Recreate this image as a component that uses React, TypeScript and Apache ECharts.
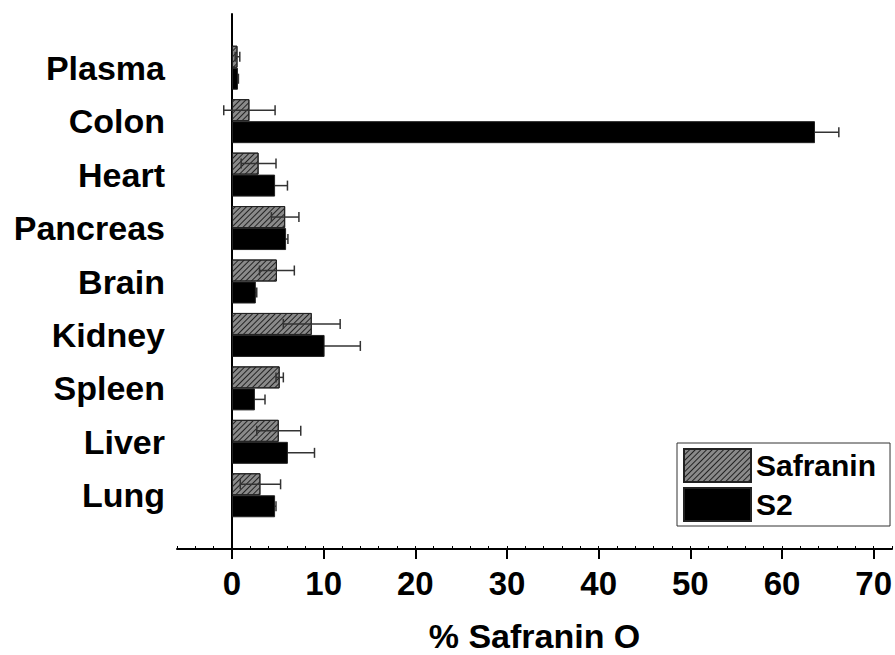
import React, { useEffect, useRef } from 'react';
import * as echarts from 'echarts';

const categories = ['Lung', 'Liver', 'Spleen', 'Kidney', 'Brain', 'Pancreas', 'Heart', 'Colon', 'Plasma'];
const safranin = [3.1, 5.1, 5.2, 8.7, 4.9, 5.8, 2.9, 1.9, 0.6];
const safraninErr = [2.2, 2.4, 0.4, 3.1, 1.9, 1.5, 1.9, 2.8, 0.25];
const s2 = [4.7, 6.1, 2.5, 10.1, 2.6, 5.9, 4.7, 63.6, 0.65];
const s2Err = [0.1, 2.9, 1.1, 3.9, 0.1, 0.2, 1.35, 2.6, 0.05];
const xTickLabels = [0, 10, 20, 30, 40, 50, 60, 70];

const FONT = 'Liberation Sans';
const BAR_W = 22;

const safraninErrData = safranin.map((v, i) => [i, v, safraninErr[i], 0]);
const s2ErrData = s2.map((v, i) => [i, v, s2Err[i], 1]);

const renderErr = (params: any, api: any) => {
  const cat = api.value(0);
  const mean = api.value(1);
  const err = api.value(2);
  const side = api.value(3);
  const c = api.coord([mean, cat]);
  const lo = api.coord([mean - err, cat]);
  const hi = api.coord([mean + err, cat]);
  const y = c[1] + (side === 0 ? -1 : 1) * (BAR_W / 2);
  const style = { stroke: '#333', lineWidth: 1.5 };
  return {
    type: 'group',
    children: [
      { type: 'line', shape: { x1: lo[0], y1: y, x2: hi[0], y2: y }, style },
      { type: 'line', shape: { x1: lo[0], y1: y - 5, x2: lo[0], y2: y + 5 }, style },
      { type: 'line', shape: { x1: hi[0], y1: y - 5, x2: hi[0], y2: y + 5 }, style },
    ],
  };
};

export default function App() {
  const ref = useRef<HTMLDivElement>(null);
  useEffect(() => {
    const chart = echarts.init(ref.current!, null, { renderer: 'svg' });
    const textBase = { fontFamily: FONT, fontWeight: 'bold' as const, color: '#000' };
    chart.setOption({
      animation: false,
      grid: [
        { left: 177, right: 3, top: 41, bottom: 133, outerBoundsMode: 'none', containLabel: false },
        { left: 177, right: 3, top: 14, bottom: 106, outerBoundsMode: 'none', containLabel: false },
      ],
      legend: {
        data: ['Safranin', 'S2'],
        orient: 'vertical',
        left: 677,
        top: 443,
        icon: 'rect',
        itemWidth: 67,
        itemHeight: 33,
        itemGap: 4,
        padding: [5, 14, 4, 6],
        borderColor: '#333',
        borderWidth: 1,
        textStyle: { ...textBase, fontSize: 30 },
      },
      xAxis: [
        { gridIndex: 0, type: 'value', min: -6, max: 72, show: false },
        {
          gridIndex: 1,
          type: 'value',
          min: -6,
          max: 72,
          position: 'bottom',
          axisLine: { onZero: false, lineStyle: { color: '#000', width: 2 } },
          axisTick: { customValues: xTickLabels, length: 10, lineStyle: { color: '#000', width: 2 } },
          axisLabel: { customValues: xTickLabels, ...textBase, fontSize: 33, margin: 18 },
          splitLine: { show: false },
          name: '% Safranin O',
          nameLocation: 'middle',
          nameGap: 70,
          nameTextStyle: { ...textBase, fontSize: 34 },
        },
        {
          gridIndex: 1,
          type: 'value',
          min: -6,
          max: 72,
          interval: 2,
          position: 'bottom',
          axisLine: { show: false, onZero: false },
          axisTick: { inside: true, length: 3, lineStyle: { color: '#000', width: 1 } },
          axisLabel: { show: false },
          splitLine: { show: false },
        },
      ],
      yAxis: [
        {
          gridIndex: 0,
          type: 'category',
          data: categories,
          position: 'left',
          axisLine: { onZero: true, lineStyle: { color: '#000', width: 2 } },
          axisTick: { length: 5, lineStyle: { color: '#000', width: 2 } },
          axisLabel: { interval: 0, ...textBase, fontSize: 34, margin: 12 },
          splitLine: { show: false },
        },
        {
          gridIndex: 0,
          type: 'category',
          data: categories,
          position: 'left',
          axisLine: { show: false, onZero: true },
          axisTick: { inside: true, length: 5, lineStyle: { color: '#000', width: 2 } },
          axisLabel: { show: false },
          splitLine: { show: false },
        },
        {
          gridIndex: 1,
          type: 'value',
          min: 0,
          max: 10,
          position: 'left',
          axisLine: { onZero: true, lineStyle: { color: '#000', width: 2 } },
          axisTick: { show: false },
          axisLabel: { show: false },
          splitLine: { show: false },
        },
      ],
      series: [
        {
          name: 'Safranin',
          type: 'bar',
          xAxisIndex: 0,
          yAxisIndex: 0,
          data: safranin,
          barWidth: BAR_W,
          barGap: '0%',
          z: 3,
          itemStyle: {
            color: '#8a8a8a',
            borderColor: '#222',
            borderWidth: 1,
            decal: {
              symbol: 'rect',
              symbolSize: 1,
              dashArrayX: [1, 0],
              dashArrayY: [1, 3],
              rotation: -Math.PI / 4,
              color: '#222',
            },
          },
        },
        {
          name: 'S2',
          type: 'bar',
          xAxisIndex: 0,
          yAxisIndex: 0,
          data: s2,
          barWidth: BAR_W,
          barGap: '0%',
          z: 3,
          itemStyle: { color: '#000', borderColor: '#222', borderWidth: 1 },
        },
        {
          type: 'custom',
          xAxisIndex: 0,
          yAxisIndex: 0,
          data: safraninErrData,
          encode: { x: 1, y: 0 },
          z: 10,
          renderItem: renderErr,
        },
        {
          type: 'custom',
          xAxisIndex: 0,
          yAxisIndex: 0,
          data: s2ErrData,
          encode: { x: 1, y: 0 },
          z: 1,
          renderItem: renderErr,
        },
      ],
    });
    return () => chart.dispose();
  }, []);
  return <div ref={ref} style={{ position: 'absolute', left: 0, top: 0, width: 895, height: 655 }} />;
}
